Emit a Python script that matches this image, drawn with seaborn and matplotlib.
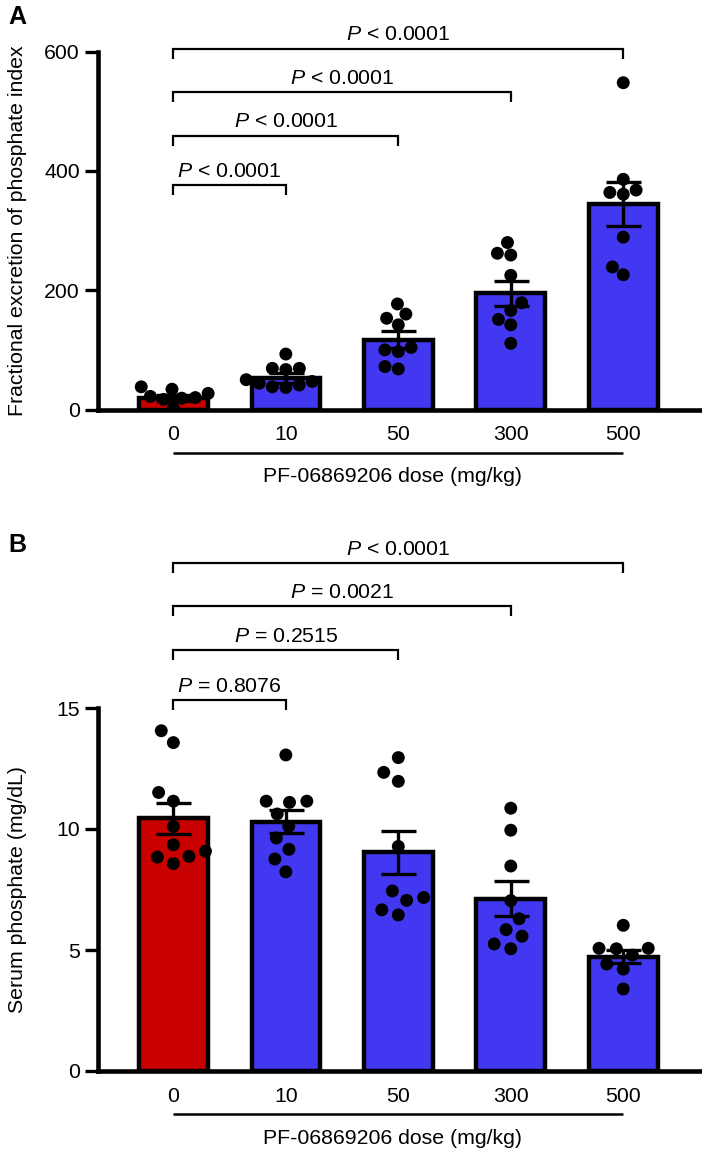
import numpy as np
import pandas as pd
import matplotlib
matplotlib.use("Agg")
import matplotlib.pyplot as plt
import seaborn as sns
from matplotlib.transforms import blended_transform_factory, ScaledTranslation

# ---------------- data ----------------
doses = ["0", "10", "50", "300", "500"]
bar_colors = ["#C80000", "#4338F2", "#4338F2", "#4338F2", "#4338F2"]

# Panel A: fractional excretion of phosphate index
fe_mean = [19, 53, 117, 195, 345]
fe_sem = [5, 8, 14, 21, 37]
fe_g0 = [34, 38, 27, 22, 19, 17, 20, 2]
fe_g10 = [93, 69, 69, 67, 50, 41, 44, 37, 47, 38]
fe_g50 = [177, 160, 153, 142, 104, 97, 100, 68, 72]
fe_g300 = [280, 262, 259, 225, 179, 166, 151, 142, 111]
fe_g500 = [548, 386, 368, 364, 361, 289, 239, 226]
fe_pvals = ["< 0.0001", "< 0.0001", "< 0.0001", "< 0.0001"]

# Panel B: serum phosphate
sp_mean = [10.45, 10.3, 9.03, 7.12, 4.72]
sp_sem = [0.64, 0.47, 0.88, 0.72, 0.27]
sp_g0 = [14.06, 13.57, 11.51, 11.15, 10.11, 9.35, 9.08, 8.84, 8.87, 8.57]
sp_g10 = [13.06, 11.15, 11.10, 11.15, 10.62, 10.11, 9.63, 9.16, 8.76, 8.23]
sp_g50 = [12.95, 12.34, 11.97, 9.28, 7.17, 7.05, 7.44, 6.45, 6.66]
sp_g300 = [10.86, 9.95, 8.47, 7.04, 6.29, 5.84, 5.57, 5.05, 5.25]
sp_g500 = [6.02, 5.07, 5.07, 5.05, 4.79, 4.42, 4.21, 3.39]
sp_pvals = ["= 0.8076", "= 0.2515", "= 0.0021", "< 0.0001"]

x_label = "PF-06869206 dose (mg/kg)"

# ---------------- style ----------------
sns.set_style("ticks")
plt.rcParams["font.family"] = ["Liberation Sans", "DejaVu Sans"]
plt.rcParams["mathtext.fontset"] = "custom"
plt.rcParams["mathtext.it"] = "Liberation Sans:italic"
plt.rcParams["mathtext.rm"] = "Liberation Sans"
for k in ("text.color", "axes.labelcolor", "xtick.color", "ytick.color",
          "axes.edgecolor", "xtick.labelcolor", "ytick.labelcolor"):
    plt.rcParams[k] = "black"

FS = 15.3
W, H = 702, 1163
fig = plt.figure(figsize=(W / 100, H / 100), dpi=100)

XL = (-0.67, 4.70)


def panel(ax, means, sems, groups, ymax, yticks, ylabel, pvals, bracket_y,
          tlen, spread):
    df_bar = pd.DataFrame({"dose": doses, "value": means})
    sns.barplot(data=df_bar, x="dose", y="value", hue="dose", order=doses,
                hue_order=doses, palette=bar_colors, legend=False, width=0.61,
                edgecolor="black", linewidth=3.2, saturation=1, errorbar=None,
                ax=ax, zorder=2)
    rows = [(d, v) for d, g in zip(doses, groups) for v in g]
    df_pts = pd.DataFrame(rows, columns=["dose", "value"])
    n_before = len(ax.collections)
    # invisible edge width only widens the swarm spacing
    sns.swarmplot(data=df_pts, x="dose", y="value", order=doses, color="black",
                  size=9.3, linewidth=spread, edgecolor="none", ax=ax, zorder=3,
                  warn_thresh=1)
    for c in ax.collections[n_before:]:
        c.set_edgecolor("none")
        c.set_zorder(3)
    ax.errorbar(x=np.arange(len(doses)), y=means, yerr=sems, fmt="none",
                ecolor="black", elinewidth=2.4, capsize=12.6, capthick=2.4,
                zorder=4)

    ax.set_xlim(*XL)
    ax.set_ylim(0, ymax)
    ax.set_yticks(yticks)
    ax.set_xlabel("")
    ax.set_ylabel("")
    sns.despine(ax=ax)
    for s in ("left", "bottom"):
        ax.spines[s].set_linewidth(3.3)
        ax.spines[s].set_color("black")
    ax.tick_params(axis="y", length=9.4, width=2.4, pad=3.6, labelsize=FS,
                   direction="out", colors="black")
    ax.tick_params(axis="x", length=0, pad=11.5, labelsize=FS, colors="black")

    ax.text(-80 / 604, 0.5, ylabel, transform=ax.transAxes, rotation=90,
            ha="center", va="center", fontsize=FS)

    off_line = ScaledTranslation(0, -43 / 100, fig.dpi_scale_trans)
    trans = blended_transform_factory(ax.transData, ax.transAxes)
    ax.plot([0, 4], [0, 0], color="black", lw=1.8, transform=trans + off_line,
            clip_on=False, solid_capstyle="butt")
    off_lab = ScaledTranslation(0, -67 / 100, fig.dpi_scale_trans)
    ax.text(1.95, 0, x_label, transform=trans + off_lab, ha="center",
            va="center", fontsize=FS)

    for i, (p, by) in enumerate(zip(pvals, bracket_y), start=1):
        ax.plot([0, 0, i, i], [by - tlen, by, by, by - tlen], color="black",
                lw=1.6, clip_on=False, solid_joinstyle="miter",
                solid_capstyle="butt")
        ax.annotate(r"$P$ " + p, xy=(i / 2, by), xytext=(0, 6),
                    textcoords="offset points", ha="center", va="baseline",
                    fontsize=FS, annotation_clip=False)


axA = fig.add_axes([98 / W, 1 - 409.5 / H, 604 / W, (409.5 - 51.7) / H])
panel(axA, fe_mean, fe_sem, [fe_g0, fe_g10, fe_g50, fe_g300, fe_g500], 600,
      [0, 200, 400, 600], "Fractional excretion of phosphate index", fe_pvals,
      [376, 459, 532, 605], 17, 0.0)

axB = fig.add_axes([98 / W, 1 - 1071 / H, 604 / W, (1071 - 708) / H])
panel(axB, sp_mean, sp_sem, [sp_g0, sp_g10, sp_g50, sp_g300, sp_g500], 15,
      [0, 5, 10, 15], "Serum phosphate (mg/dL)", sp_pvals,
      [15.33, 17.4, 19.22, 20.99], 0.43, 2.6)

fig.text(8 / W, 1 - 16.7 / H, "A", fontsize=18, fontweight="bold",
         ha="left", va="center")
fig.text(8 / W, 1 - 545 / H, "B", fontsize=18, fontweight="bold",
         ha="left", va="center")

fig.savefig("out.png", dpi=100)
